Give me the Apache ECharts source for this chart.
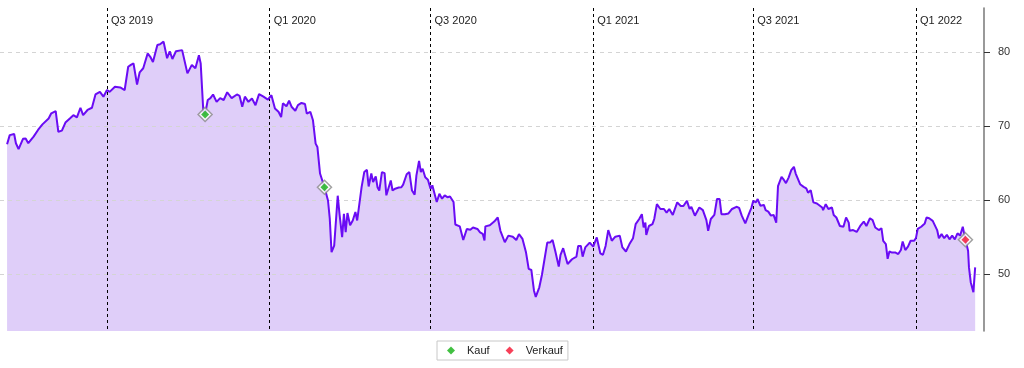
<!DOCTYPE html>
<html>
<head>
<meta charset="utf-8">
<script src="https://cdn.jsdelivr.net/npm/echarts@6/dist/echarts.min.js"></script>
<style>
html,body{margin:0;padding:0;background:#fff;}
#chart{width:1024px;height:368px;}
</style>
</head>
<body>
<div id="chart"></div>
<script>
const dates = [
'2019-03-10','2019-03-13','2019-03-18','2019-03-20','2019-03-23','2019-03-28','2019-03-31','2019-04-03','2019-04-09','2019-04-14',
'2019-04-16','2019-04-19','2019-04-26','2019-04-29','2019-05-04','2019-05-07','2019-05-11','2019-05-15','2019-05-17','2019-05-20',
'2019-05-24','2019-05-28','2019-06-01','2019-06-04','2019-06-09','2019-06-14','2019-06-18','2019-06-23','2019-06-27','2019-07-01',
'2019-07-04','2019-07-10','2019-07-16','2019-07-21','2019-07-25','2019-07-28','2019-07-31','2019-08-04','2019-08-07','2019-08-11',
'2019-08-16','2019-08-19','2019-08-22','2019-08-27','2019-08-30','2019-09-03','2019-09-07','2019-09-10','2019-09-13','2019-09-17',
'2019-09-24','2019-09-26','2019-09-30','2019-10-05','2019-10-09','2019-10-13','2019-10-15','2019-10-18','2019-10-20','2019-10-23',
'2019-10-26','2019-10-29','2019-11-02','2019-11-06','2019-11-10','2019-11-14','2019-11-19','2019-11-25','2019-11-28','2019-12-01',
'2019-12-04','2019-12-08','2019-12-12','2019-12-16','2019-12-20','2019-12-25','2019-12-30',
'2020-01-03','2020-01-07','2020-01-11','2020-01-14','2020-01-16','2020-01-20','2020-01-23','2020-01-26','2020-01-30','2020-02-02',
'2020-02-06','2020-02-10','2020-02-12','2020-02-16','2020-02-19','2020-02-22','2020-02-24','2020-02-27','2020-03-03','2020-03-07',
'2020-03-09','2020-03-11','2020-03-14','2020-03-18','2020-03-20','2020-03-23','2020-03-25','2020-03-27','2020-03-29','2020-04-01',
'2020-04-04','2020-04-07','2020-04-09','2020-04-14','2020-04-17','2020-04-20','2020-04-22','2020-04-25','2020-04-27','2020-04-30',
'2020-05-02','2020-05-04','2020-05-07','2020-05-10','2020-05-12','2020-05-14','2020-05-17','2020-05-19','2020-05-22','2020-05-26',
'2020-05-29','2020-05-31','2020-06-04','2020-06-07','2020-06-10','2020-06-13','2020-06-15','2020-06-18','2020-06-20','2020-06-22',
'2020-06-25','2020-06-28','2020-07-01','2020-07-03','2020-07-08','2020-07-11','2020-07-14','2020-07-17','2020-07-20','2020-07-23',
'2020-07-27','2020-07-29','2020-08-03','2020-08-07','2020-08-11','2020-08-15','2020-08-18','2020-08-23','2020-08-26','2020-08-29',
'2020-08-31','2020-09-01','2020-09-06','2020-09-11','2020-09-15','2020-09-18','2020-09-23','2020-09-27','2020-10-02','2020-10-06',
'2020-10-09','2020-10-13','2020-10-17','2020-10-20','2020-10-23','2020-10-26','2020-10-28','2020-11-01','2020-11-04','2020-11-06',
'2020-11-10','2020-11-13','2020-11-16','2020-11-19','2020-11-23','2020-11-25','2020-11-28','2020-12-03','2020-12-08','2020-12-13',
'2020-12-15','2020-12-18','2020-12-20','2020-12-23','2020-12-28',
'2021-01-01','2021-01-05','2021-01-09','2021-01-12','2021-01-15','2021-01-18','2021-01-22','2021-01-26','2021-01-31','2021-02-03',
'2021-02-07','2021-02-11','2021-02-15','2021-02-18','2021-02-22','2021-02-25','2021-02-27','2021-03-01','2021-03-02','2021-03-05',
'2021-03-09','2021-03-11','2021-03-14','2021-03-18','2021-03-22','2021-03-25','2021-03-28','2021-04-01','2021-04-06','2021-04-10',
'2021-04-13','2021-04-17','2021-04-20','2021-04-22','2021-04-26','2021-05-01','2021-05-05','2021-05-09','2021-05-11','2021-05-14',
'2021-05-18','2021-05-21','2021-05-24','2021-05-26','2021-05-30','2021-06-03','2021-06-07','2021-06-12','2021-06-15','2021-06-18',
'2021-06-22','2021-06-26','2021-06-29','2021-07-01','2021-07-04','2021-07-06','2021-07-09','2021-07-13','2021-07-15','2021-07-18',
'2021-07-21','2021-07-24','2021-07-27','2021-07-29','2021-08-02','2021-08-04','2021-08-07','2021-08-10','2021-08-13','2021-08-16',
'2021-08-18','2021-08-20','2021-08-23','2021-08-27','2021-08-30','2021-09-01','2021-09-04','2021-09-07','2021-09-11','2021-09-13',
'2021-09-17','2021-09-18','2021-09-21','2021-09-24','2021-09-28','2021-09-30','2021-10-03','2021-10-07','2021-10-11','2021-10-14',
'2021-10-17','2021-10-18','2021-10-22','2021-10-26','2021-10-30','2021-11-03','2021-11-06','2021-11-10','2021-11-13','2021-11-16',
'2021-11-20','2021-11-23','2021-11-25','2021-11-28','2021-11-30','2021-12-02','2021-12-05','2021-12-09','2021-12-12','2021-12-15',
'2021-12-17','2021-12-20','2021-12-23','2021-12-26','2021-12-30',
'2022-01-01','2022-01-03','2022-01-07','2022-01-11','2022-01-13','2022-01-16','2022-01-20','2022-01-22','2022-01-25','2022-01-27',
'2022-01-30','2022-02-02','2022-02-05','2022-02-08','2022-02-11','2022-02-14','2022-02-17','2022-02-20','2022-02-23','2022-02-25',
'2022-02-26','2022-03-01','2022-03-02','2022-03-04','2022-03-07','2022-03-09'
];
const prices = [
67.55,68.8,68.95,67.7,66.9,68.3,68.35,67.7,68.6,69.5,
69.35,70.25,71.05,71.75,72.05,69.25,69.4,70.5,70.25,71.05,
71.5,71.2,72.5,71.5,72.2,72.5,74.3,74.65,74.0,74.9,
74.65,75.35,75.25,74.9,78.05,78.3,78.5,75.65,77.3,77.85,
79.85,79.4,78.7,81.0,81.1,81.45,79.2,80.15,79.1,80.15,
80.3,80.3,77.15,78.3,77.85,79.6,78.5,72.0,71.6,73.55,
73.8,74.3,73.3,73.8,73.55,74.6,73.8,74.3,74.1,72.65,
74.0,73.3,73.75,72.85,74.35,74.0,73.6,
74.2,72.4,71.95,71.25,73.1,72.7,73.45,72.6,72.1,72.85,
73.15,73.0,71.7,71.95,70.8,67.65,67.2,63.6,61.75,59.95,
57.5,52.95,53.85,60.6,58.15,55.0,58.15,55.65,58.25,56.6,
57.25,58.4,57.25,61.75,63.8,64.1,61.85,63.6,62.45,63.2,
61.75,61.3,63.8,63.65,60.65,60.4,62.65,61.3,61.55,61.7,
61.75,62.1,63.5,63.8,61.3,60.75,63.35,65.3,63.8,64.25,
63.1,62.75,61.55,62.0,59.75,60.85,60.2,60.65,60.4,60.5,
59.75,56.7,56.45,54.6,56.1,56.0,56.3,56.1,55.65,55.45,
54.55,56.45,56.6,57.1,57.65,55.85,54.3,55.2,55.05,54.6,
55.4,54.75,52.9,50.7,50.55,47.75,46.9,48.2,49.9,50.0,
54.25,54.25,54.6,53.15,51.0,52.6,53.5,51.35,52.0,52.35,
53.8,53.8,52.35,53.6,54.25,
53.7,54.95,52.8,52.6,53.8,55.95,54.5,55.05,55.2,53.6,
53.05,54.05,54.85,56.75,57.45,58.1,56.3,56.95,55.3,56.5,
56.75,57.45,59.45,58.8,58.8,58.3,58.8,58.0,59.7,59.2,
59.2,59.9,58.8,59.1,57.9,59.0,58.65,57.3,55.85,57.45,
58.0,60.15,60.15,58.1,58.1,58.2,58.8,59.1,58.95,57.9,
56.85,58.1,59.0,59.9,59.7,60.15,59.25,59.35,58.65,58.45,
57.9,58.0,56.95,61.9,63.15,62.85,62.3,63.05,64.05,64.5,
63.6,63.4,62.15,61.8,61.6,61.0,61.35,59.7,59.55,59.35,
59.0,58.65,59.45,58.8,59.0,58.0,57.65,56.5,56.4,57.65,
56.95,55.85,55.95,55.7,56.5,57.1,56.5,57.55,57.3,56.3,
55.95,56.2,54.5,54.05,52.05,53.05,52.9,52.9,52.7,53.25,
54.4,53.25,53.7,54.5,54.5,
54.85,56.1,56.4,56.85,57.65,57.55,57.2,57.45,55.95,54.85,
55.4,54.85,55.3,54.7,55.2,54.7,55.5,55.2,56.4,55.2,
54.65,53.15,50.9,48.9,47.55,50.9
];
const buyDates = ['2019-10-20','2020-03-03'];
const buyValues = [71.6, 61.75];
const sellDates = ['2022-02-26'];
const sellValues = [54.65];
const quarterDates = ['2019-07-01','2020-01-01','2020-07-01','2021-01-01','2021-07-01','2022-01-01'];
const quarterLabels = ['Q3 2019','Q1 2020','Q3 2020','Q1 2021','Q3 2021','Q1 2022'];
const yTicks = [50, 60, 70, 80];

function toTime(s){ const p = s.split('-').map(Number); return Date.UTC(p[0], p[1]-1, p[2]); }
const quarterTimes = quarterDates.map(toTime);
const priceData = dates.map((d, i) => [toTime(d), prices[i]]);
const FONT = '"Liberation Sans", Arial, Helvetica, sans-serif';

const chart = echarts.init(document.getElementById('chart'), null, {renderer: 'canvas'});
chart.setOption({
  animation: false,
  backgroundColor: '#fff',
  textStyle: {fontFamily: FONT},
  grid: {left: 0, right: 40, top: 8, bottom: 37, containLabel: false},
  legend: {
    data: ['Kauf', 'Verkauf'],
    left: 437,
    top: 341,
    icon: 'diamond',
    itemWidth: 8,
    itemHeight: 8,
    itemGap: 16,
    padding: [4, 5, 4, 10],
    borderColor: '#c8c8c8',
    borderWidth: 1,
    borderRadius: 0,
    textStyle: {fontFamily: FONT, fontSize: 11, color: '#222', padding: [0, 0, 0, 7]}
  },
  xAxis: {
    type: 'value',
    position: 'top',
    z: 3,
    min: toTime('2019-03-02'),
    max: toTime('2022-03-19'),
    axisLine: {show: false},
    axisTick: {show: false, customValues: quarterTimes},
    axisLabel: {
      inside: true,
      customValues: quarterTimes,
      margin: 7,
      align: 'left',
      padding: [0, 0, 0, 4],
      fontFamily: FONT,
      fontSize: 11,
      color: '#222',
      formatter: function (v) { const i = quarterTimes.indexOf(v); return i >= 0 ? quarterLabels[i] : ''; }
    },
    splitLine: {show: true, lineStyle: {color: '#000', width: 1, type: [3, 3]}}
  },
  yAxis: {
    type: 'value',
    position: 'right',
    z: 3,
    min: 42.29,
    max: 86.0,
    axisLine: {show: true, lineStyle: {color: '#808080', width: 1.6}},
    axisTick: {show: true, length: 6, customValues: yTicks, lineStyle: {color: '#333', width: 1}},
    axisLabel: {customValues: yTicks, margin: 14, fontFamily: FONT, fontSize: 11, color: '#333'},
    splitLine: {show: true, lineStyle: {color: '#d4d4d4', width: 1, type: [4, 4]}}
  },
  series: [
    {
      name: 'Fläche',
      type: 'line',
      data: priceData,
      symbol: 'none',
      lineStyle: {width: 0, opacity: 0},
      areaStyle: {color: '#dfcef9', opacity: 1, origin: 'start'},
      silent: true,
      z: 1
    },
    {
      name: 'Kurs',
      type: 'line',
      data: priceData,
      symbol: 'none',
      lineStyle: {color: '#6a0cf4', width: 2},
      itemStyle: {color: '#6a0cf4'},
      z: 5
    },
    {
      name: 'bgBuy',
      type: 'scatter',
      symbol: 'diamond',
      symbolSize: 14,
      data: buyDates.map((d, i) => [toTime(d), buyValues[i]]),
      itemStyle: {color: '#fff', borderColor: '#8a8a8a', borderWidth: 1.5},
      z: 6
    },
    {
      name: 'bgSell',
      type: 'scatter',
      symbol: 'diamond',
      symbolSize: 14,
      data: sellDates.map((d, i) => [toTime(d), sellValues[i]]),
      itemStyle: {color: '#fff', borderColor: '#8a8a8a', borderWidth: 1.5},
      z: 6
    },
    {
      name: 'Kauf',
      type: 'scatter',
      symbol: 'diamond',
      symbolSize: 8,
      data: buyDates.map((d, i) => [toTime(d), buyValues[i]]),
      itemStyle: {color: '#12b012'},
      z: 7
    },
    {
      name: 'Verkauf',
      type: 'scatter',
      symbol: 'diamond',
      symbolSize: 8,
      data: sellDates.map((d, i) => [toTime(d), sellValues[i]]),
      itemStyle: {color: '#f5102e'},
      z: 7
    }
  ]
});
</script>
</body>
</html>
